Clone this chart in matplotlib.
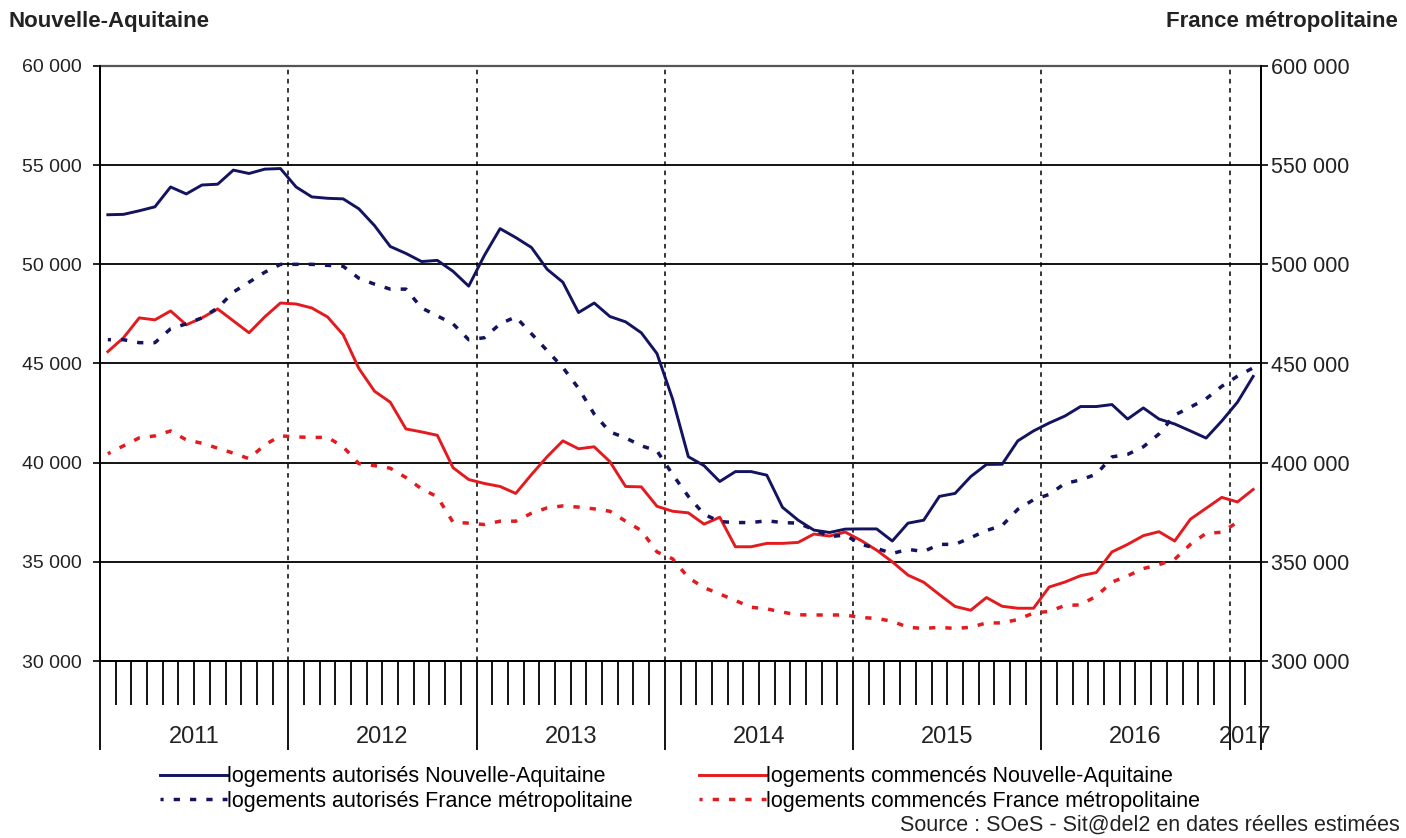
import matplotlib
matplotlib.use("Agg")
import matplotlib.pyplot as plt
import matplotlib.transforms as mtransforms
from matplotlib.ticker import FuncFormatter
import numpy as np

plt.rcParams['font.family'] = ['Liberation Sans', 'DejaVu Sans']

# mois de janvier 2011 a fevrier 2017 (cumul 12 mois)
annees = ['2011', '2012', '2013', '2014', '2015', '2016', '2017']
mois_par_annee = [12, 12, 12, 12, 12, 12, 2]

autorises_na = [52500, 52520, 52700, 52900, 53900, 53550, 54000, 54040, 54750, 54580, 54800, 54830,
                53900, 53400, 53330, 53300, 52800, 51950, 50900, 50550, 50140, 50200, 49650, 48900,
                50450, 51800, 51350, 50850, 49750, 49100, 47570, 48050, 47370, 47100, 46550, 45500,
                43200, 40300, 39850, 39050, 39550, 39550, 39370, 37750, 37100, 36600, 36480, 36650,
                36660, 36660, 36050, 36950, 37100, 38300, 38450, 39300, 39910, 39920, 41100, 41600,
                42000, 42350, 42830, 42830, 42930, 42200, 42760, 42200, 41950, 41600, 41240, 42100,
                43050, 44350]

autorises_fr = [462000, 462000, 460500, 460500, 467500, 470000, 473000, 478000, 486000, 491000, 496000, 500000,
                500000, 500000, 499500, 499000, 493000, 490000, 487500, 487500, 478000, 474000, 470000, 462000,
                463000, 470000, 473500, 465000, 456500, 448000, 437500, 424500, 415500, 412500, 408500, 406000,
                394000, 383000, 374000, 370300, 369800, 369800, 370700, 369800, 369500, 366200, 362700, 363500,
                358800, 356800, 354200, 356300, 355200, 358800, 358800, 362200, 365800, 368300, 376500, 381300,
                384000, 389500, 391300, 394200, 402900, 404200, 408000, 414500, 424000, 428000, 432200, 438500,
                443600, 447800]

commences_na = [45600, 46300, 47300, 47200, 47650, 46950, 47300, 47750, 47150, 46550, 47350, 48050,
                48000, 47800, 47350, 46450, 44750, 43600, 43050, 41700, 41550, 41380, 39750, 39150,
                38950, 38800, 38450, 39400, 40300, 41100, 40700, 40800, 40050, 38800, 38780, 37800,
                37550, 37470, 36900, 37250, 35760, 35760, 35930, 35930, 35980, 36400, 36300, 36500,
                36080, 35590, 35000, 34330, 33970, 33350, 32750, 32560, 33200, 32760, 32660, 32660,
                33730, 33980, 34300, 34460, 35500, 35880, 36320, 36520, 36050, 37150, 37700, 38250,
                38020, 38650]

commences_fr = [404500, 408500, 412500, 413500, 416000, 411500, 409800, 407300, 404800, 402000, 409000, 413500,
                413000, 412700, 412800, 408000, 399500, 398500, 397200, 392500, 386800, 382800, 370000, 369500,
                368800, 370500, 370500, 374500, 377200, 378200, 377600, 376700, 375500, 370500, 365800, 355000,
                351500, 342000, 337000, 333800, 330500, 327100, 326300, 324600, 323300, 323200, 323200, 323200,
                321900, 321500, 320000, 317000, 316400, 317000, 316400, 317000, 319200, 319200, 320900, 324200,
                325000, 328000, 328300, 332700, 339800, 342900, 346600, 348600, 351300, 358800, 364400, 364900,
                370000, np.nan]

bleu = '#13135f'
rouge = '#e31b1f'
fs = 15.5

n = len(autorises_na)
x = np.arange(n)

fig = plt.figure(figsize=(14.06, 8.38), dpi=100)
ax = fig.add_axes([100/1406, 1-661/838, (1261-100)/1406, (661-66)/838])
ax2 = ax.twinx()

ax.set_xlim(-0.5, n-0.5)
ax.set_ylim(30000, 60000)
ax2.set_ylim(300000, 600000)

fmt = FuncFormatter(lambda v, p: f"{int(v):,}".replace(',', ' '))
ax.set_yticks(np.arange(30000, 60001, 5000))
ax2.set_yticks(np.arange(300000, 600001, 50000))
ax.yaxis.set_major_formatter(fmt)
ax2.yaxis.set_major_formatter(fmt)
ax.tick_params(axis='y', length=5, width=1.2, pad=8, labelsize=14, labelcolor='#222')
ax2.tick_params(axis='y', length=5, width=1.2, pad=2, labelsize=fs, labelcolor='#222')

# lignes horizontales
for v in range(35000, 60000, 5000):
    ax.axhline(v, color='black', lw=1.3, zorder=1)

# separations annees
bornes = np.cumsum([0] + mois_par_annee) - 0.5
for b in bornes[1:-1]:
    ax.plot([b, b], [30000, 60000], color='black', lw=1.1, ls=(0, (3, 3)), zorder=1)

# graduations mois sous l'axe
ax.set_xticks(bornes)
ax.set_xticks([k - 0.5 for k in range(1, n) if (k - 0.5) not in bornes], minor=True)
ax.tick_params(axis='x', which='major', length=64, width=1.3, labelbottom=False)
ax.tick_params(axis='x', which='minor', length=32, width=1.3)

trans = mtransforms.blended_transform_factory(ax.transData, ax.transAxes)
for i, an in enumerate(annees):
    ax.text((bornes[i] + bornes[i+1]) / 2, -0.127, an, transform=trans,
            ha='center', va='center', fontsize=17, color='#222')

for sp in ['left', 'right', 'bottom']:
    ax.spines[sp].set_linewidth(1.3)
    ax2.spines[sp].set_linewidth(1.3)
ax.spines['top'].set_color('#555')
ax.spines['top'].set_linewidth(1.6)
ax2.spines['top'].set_visible(False)

pointille = (0.9, (1.8, 2.9))
l1, = ax.plot(x, autorises_na, color=bleu, lw=2.1, zorder=3)
l3, = ax.plot(x, commences_na, color=rouge, lw=2.1, zorder=3)
l2, = ax2.plot(x, autorises_fr, color=bleu, lw=2.5, ls=pointille)
l4, = ax2.plot(x, commences_fr, color=rouge, lw=2.5, ls=pointille)

fig.legend([l1, l2, l3, l4],
           ['logements autorisés Nouvelle-Aquitaine', 'logements autorisés France métropolitaine',
            'logements commencés Nouvelle-Aquitaine', 'logements commencés France métropolitaine'],
           ncol=2, loc='center left', bbox_to_anchor=(160/1406, 1-789/838), frameon=False,
           fontsize=fs, handlelength=3.1, handletextpad=0.0, columnspacing=3.1,
           borderpad=0, borderaxespad=0, labelspacing=0.15)

fig.text(8/1406, 1-22/838, 'Nouvelle-Aquitaine', fontsize=16, fontweight='bold', va='center', color='#222')
fig.text(1398/1406, 1-22/838, 'France métropolitaine', fontsize=16, fontweight='bold',
         va='center', ha='right', color='#222')
fig.text(1400/1406, 1-825/838, 'Source : SOeS - Sit@del2 en dates réelles estimées',
         fontsize=fs, ha='right', va='center', color='#222')

fig.savefig('out.png', dpi=100)
